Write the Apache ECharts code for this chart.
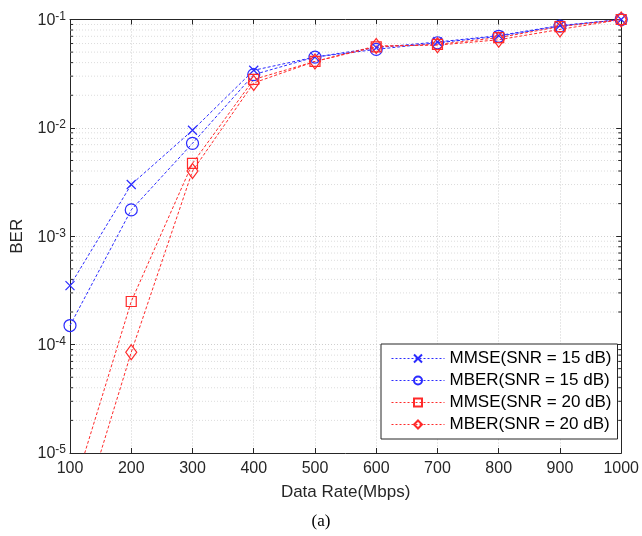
<!DOCTYPE html>
<html><head><meta charset="utf-8">
<script src="https://cdn.jsdelivr.net/npm/echarts@6/dist/echarts.min.js"></script>
<style>html,body{margin:0;padding:0;background:#fff}#c{width:642px;height:536px}</style>
</head><body><div id="c"></div>
<script>
const rates = [100, 200, 300, 400, 500, 600, 700, 800, 900, 1000];
const mmse15 = [3.5e-4, 3.0e-3, 9.5e-3, 3.4e-2, 4.5e-2, 5.5e-2, 6.2e-2, 7.1e-2, 8.8e-2, 1.0e-1];
const mber15 = [1.5e-4, 1.75e-3, 7.2e-3, 3.1e-2, 4.5e-2, 5.3e-2, 6.1e-2, 7.0e-2, 8.7e-2, 1.0e-1];
const mmse20 = [3.6e-6, 2.5e-4, 4.7e-3, 2.8e-2, 4.1e-2, 5.6e-2, 5.9e-2, 6.8e-2, 8.6e-2, 1.0e-1];
const mber20 = [1.2e-6, 8.5e-5, 4.0e-3, 2.6e-2, 4.1e-2, 5.7e-2, 5.8e-2, 6.5e-2, 8.1e-2, 1.0e-1];
const seriesNames = ['MMSE(SNR = 15 dB)', 'MBER(SNR = 15 dB)', 'MMSE(SNR = 20 dB)', 'MBER(SNR = 20 dB)'];
const minorVals = [];
for (let e = -5; e < -1; e++) for (let m = 2; m <= 9; m++) minorVals.push(m * Math.pow(10, e));

const BLUE = '#2b2bff', RED = '#ff2a2a';
const FONT = 'Liberation Sans';
const crossPath = 'path://M0,0L10,10M0,10L10,0';

function mk(name, vals, color, symbol, size) {
  return {
    name, type: 'line', data: rates.map((r, i) => [r, vals[i]]),
    symbol, symbolSize: size, showSymbol: true, clip: true,
    lineStyle: { color, width: 1, type: [3, 2] },
    itemStyle: { color: 'rgba(255,255,255,0)', borderColor: color, borderWidth: 1.2 },
    emphasis: { disabled: true }, z: 5
  };
}

const chart = echarts.init(document.getElementById('c'), null, { renderer: 'canvas' });
const axisCommon = {
  axisLine: { show: true, lineStyle: { color: '#262626', width: 1 } },
  axisTick: { show: true, inside: true, length: 5, lineStyle: { color: '#262626' } },
};
chart.setOption({
  animation: false,
  backgroundColor: '#fff',
  grid: { left: 70, right: 18, top: 19.5, bottom: 83, containLabel: false },
  xAxis: [
    Object.assign({ type: 'value', min: 100, max: 1000, interval: 100, position: 'bottom',
      name: 'Data Rate(Mbps)', nameLocation: 'middle', nameGap: 31,
      nameTextStyle: { fontFamily: FONT, fontSize: 17, color: '#262626' },
      axisLabel: { fontFamily: FONT, fontSize: 16, color: '#262626', margin: 8, formatter: v => String(v) },
      splitLine: { show: true, lineStyle: { color: '#cfcfcf', type: [1, 2] } } }, axisCommon),
    Object.assign({ type: 'value', min: 100, max: 1000, interval: 100, position: 'top',
      axisLabel: { show: false }, splitLine: { show: false } }, axisCommon)
  ],
  yAxis: [
    Object.assign({ type: 'log', logBase: 10, min: 1e-5, max: 1e-1, position: 'left',
      name: 'BER', nameLocation: 'middle', nameGap: 44, nameRotate: 90,
      nameTextStyle: { fontFamily: FONT, fontSize: 17, color: '#262626' },
      axisLabel: { margin: 4, formatter: v => '{b|10}{s|' + Math.round(Math.log10(v)) + '}',
        rich: { b: { fontFamily: FONT, fontSize: 16, color: '#262626', lineHeight: 18, verticalAlign: 'bottom' },
                s: { fontFamily: FONT, fontSize: 12, color: '#262626', lineHeight: 18, verticalAlign: 'top', padding: [0, 0, 6, 0] } } },
      splitLine: { show: true, lineStyle: { color: '#cfcfcf', type: [1, 2] } } }, axisCommon),
    Object.assign({ type: 'log', logBase: 10, min: 1e-5, max: 1e-1, position: 'right',
      axisLabel: { show: false }, splitLine: { show: false } }, axisCommon)
  ],
  legend: {
    orient: 'vertical', left: 381, top: 344, width: 238,
    data: seriesNames, itemWidth: 53, itemHeight: 10, itemGap: 5,
    padding: [6, 6, 6, 10],
    backgroundColor: '#fff', borderColor: '#262626', borderWidth: 1, borderRadius: 0,
    lineStyle: { width: 1, type: [2, 2] },
    textStyle: { fontFamily: FONT, fontSize: 17, lineHeight: 17, color: '#000' },
    selectedMode: false
  },
  graphic: [{ type: 'text', left: 'center', top: 513,
    style: { text: '(a)', font: '17px "Liberation Serif"', fill: '#000' } }],
  series: [
    {
      type: 'custom', name: 'minor', data: minorVals.map(v => [v]),
      encode: { y: 0 }, z: 1, silent: true, clip: false,
      renderItem: (params, api) => {
        const cs = params.coordSys;
        const y = api.coord([100, api.value(0)])[1];
        return { type: 'group', children: [
          { type: 'line', shape: { x1: cs.x, y1: y, x2: cs.x + cs.width, y2: y },
            style: { stroke: '#dcdcdc', lineWidth: 1, lineDash: [1, 2] } },
          { type: 'line', shape: { x1: cs.x, y1: y, x2: cs.x + 3, y2: y }, style: { stroke: '#262626', lineWidth: 1 } },
          { type: 'line', shape: { x1: cs.x + cs.width - 3, y1: y, x2: cs.x + cs.width, y2: y }, style: { stroke: '#262626', lineWidth: 1 } }
        ] };
      }
    },
    mk(seriesNames[0], mmse15, BLUE, crossPath, 9),
    mk(seriesNames[1], mber15, BLUE, 'circle', 12),
    mk(seriesNames[2], mmse20, RED, 'rect', 10),
    mk(seriesNames[3], mber20, RED, 'diamond', [11, 15])
  ]
});
</script></body></html>
